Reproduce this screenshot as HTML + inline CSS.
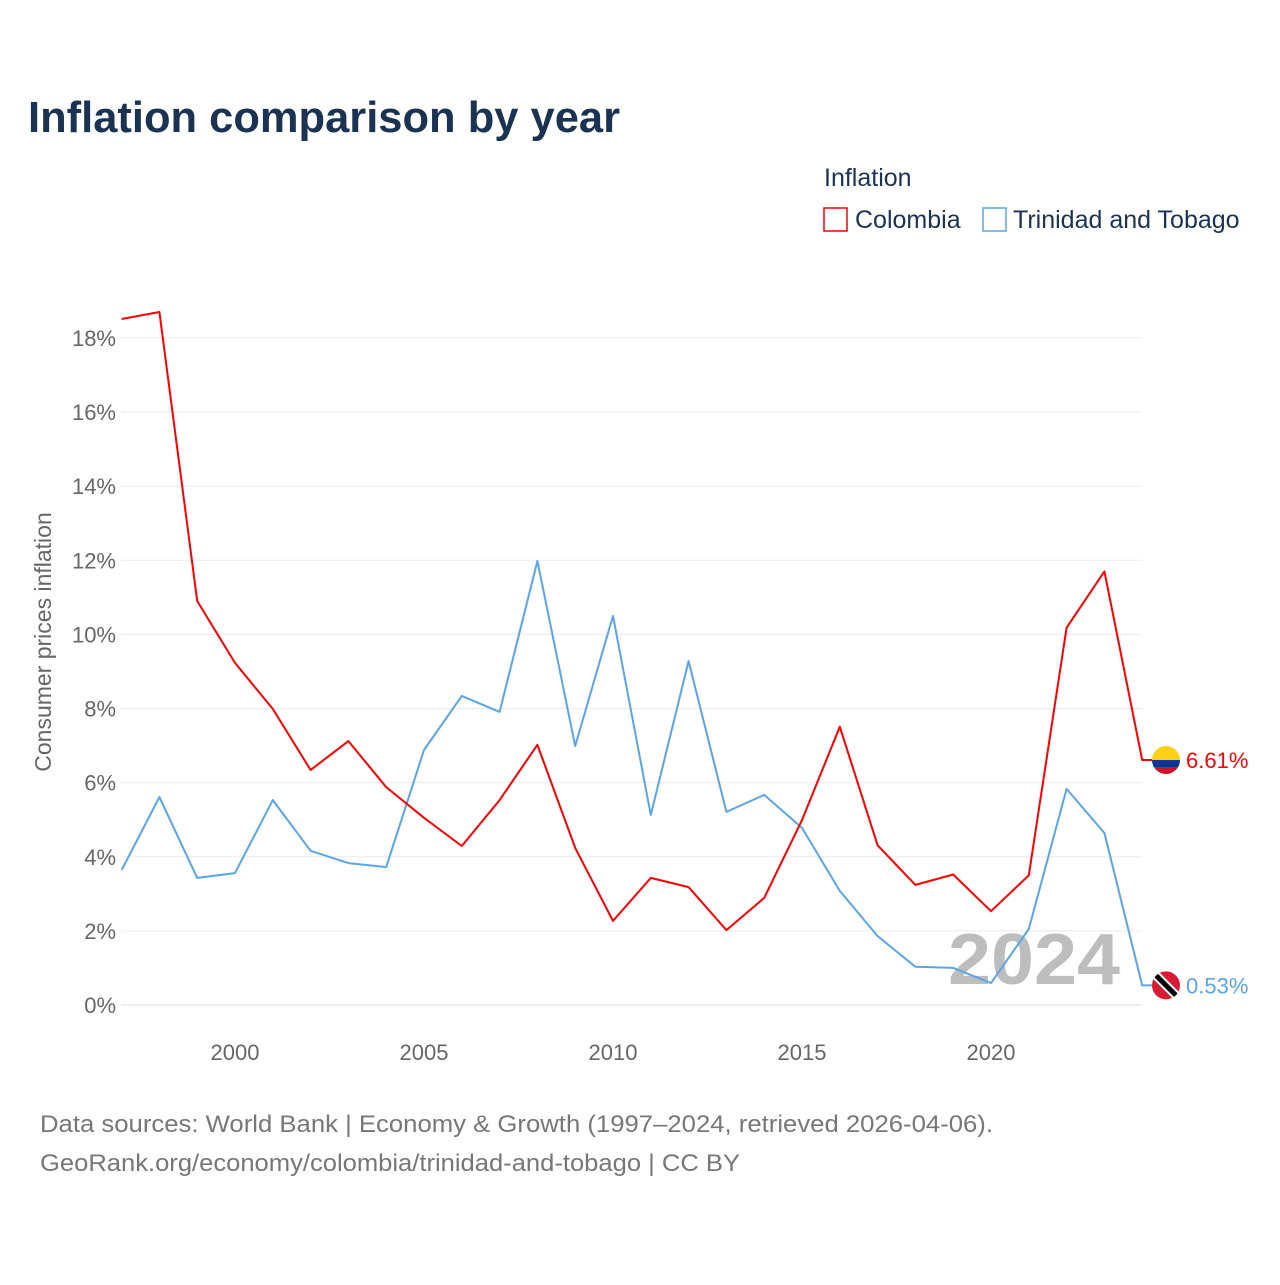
<!DOCTYPE html>
<html><head><meta charset="utf-8">
<style>
body{margin:0;background:#fff;font-family:"Liberation Sans",sans-serif;}
svg text{font-family:"Liberation Sans",sans-serif;}
</style></head>
<body>
<svg id="chart" width="1280" height="1280" xmlns="http://www.w3.org/2000/svg">
<text x="28" y="132" font-size="44" font-weight="bold" fill="#1b3352" textLength="592" lengthAdjust="spacingAndGlyphs">Inflation comparison by year</text>
<text x="824" y="186" font-size="25" fill="#1b3352">Inflation</text>
<g>
<rect x="824" y="208" width="23" height="23" fill="none" stroke="#ff0000" stroke-width="1.5"/>
<text x="855" y="228" font-size="25" fill="#1b3352">Colombia</text></g>
<g>
<rect x="983" y="208" width="23" height="23" fill="none" stroke="#5aa5e8" stroke-width="1.5"/>
<text x="1013" y="228" font-size="25" fill="#1b3352">Trinidad and Tobago</text></g>
<g id="grid"></g><g id="yticks"></g><g id="xticks"></g>
<text transform="translate(51,642) rotate(-90)" text-anchor="middle" font-size="23" fill="#666">Consumer prices inflation</text>
<text x="948" y="984" font-size="72" font-weight="bold" fill="#bdbdbd" textLength="172" lengthAdjust="spacingAndGlyphs">2024</text>
<g id="series"></g>
<text x="40" y="1132" font-size="24" fill="#777" textLength="953" lengthAdjust="spacingAndGlyphs">Data sources: World Bank | Economy &amp; Growth (1997–2024, retrieved 2026-04-06).</text>
<text x="40" y="1171" font-size="24" fill="#777" textLength="700" lengthAdjust="spacingAndGlyphs">GeoRank.org/economy/colombia/trinidad-and-tobago | CC BY</text>
</svg>
<script>
const years=[1997,1998,1999,2000,2001,2002,2003,2004,2005,2006,2007,2008,2009,2010,2011,2012,2013,2014,2015,2016,2017,2018,2019,2020,2021,2022,2023,2024];
const colombia=[18.51,18.70,10.90,9.23,7.99,6.34,7.12,5.88,5.05,4.29,5.53,7.02,4.24,2.27,3.43,3.18,2.02,2.89,4.99,7.51,4.31,3.24,3.52,2.53,3.50,10.18,11.70,6.61];
const trinidad=[3.64,5.61,3.43,3.56,5.53,4.16,3.83,3.72,6.88,8.34,7.91,11.98,6.99,10.50,5.13,9.28,5.21,5.67,4.78,3.08,1.86,1.03,1.00,0.59,2.05,5.83,4.64,0.53];
const yTicks=[0,2,4,6,8,10,12,14,16,18];
const xTicks=[2000,2005,2010,2015,2020];
const NS="http://www.w3.org/2000/svg";
const X=v=>121.6+(v-1997)*37.8;
const Y=v=>1005-v*37.06;
function mk(tag,attrs,parent,txt){const e=document.createElementNS(NS,tag);for(const k in attrs)e.setAttribute(k,attrs[k]);if(txt!==undefined)e.textContent=txt;parent.appendChild(e);return e;}
const grid=document.getElementById('grid'),yt=document.getElementById('yticks'),xt=document.getElementById('xticks'),ser=document.getElementById('series');
yTicks.forEach(t=>{
 const l=mk('line',{x1:121,x2:1142,y1:Y(t),y2:Y(t),stroke:t===0?'#ddd':'#ebebeb','stroke-width':1},grid);
 
 
 const tx=mk('text',{x:116,y:Y(t)+8,'text-anchor':'end','font-size':22,fill:'#666'},yt,t+'%');
 
 
});
xTicks.forEach(t=>{
 const tx=mk('text',{x:X(t),y:1060,'text-anchor':'middle','font-size':22,fill:'#666'},xt,String(t));
 
 
});
function line(vals,color,name){
 let d=vals.map((v,i)=>(i?'L':'M')+X(years[i]).toFixed(1)+','+Y(v).toFixed(1)).join('');
 const last=vals[vals.length-1];
 d+='L'+(X(2024)+10)+','+Y(last).toFixed(1);
 const p=mk('path',{d:d,fill:'none',stroke:color,'stroke-width':2,'stroke-linejoin':'round'},ser);
 
 
}
line(trinidad,'#5aa5e8','trinidad-line');
line(colombia,'#ff0000','colombia-line');
const cy=Y(colombia[colombia.length-1]), ty=Y(trinidad[trinidad.length-1]);
const cf=mk('g',{},ser);


const ccp=mk('clipPath',{id:'cc'},cf);mk('circle',{cx:1166,cy:cy,r:14},ccp);
mk('rect',{x:1152,y:cy-14,width:28,height:14,fill:'#fcd116','clip-path':'url(#cc)'},cf);
mk('rect',{x:1152,y:cy,width:28,height:7,fill:'#003893','clip-path':'url(#cc)'},cf);
mk('rect',{x:1152,y:cy+7,width:28,height:7,fill:'#ce1126','clip-path':'url(#cc)'},cf);
const cl=mk('text',{x:1186,y:cy+8,'font-size':22,fill:'#ff0000'},ser,colombia[colombia.length-1].toFixed(2)+'%');


const tf=mk('g',{},ser);


const tcp=mk('clipPath',{id:'tc'},tf);mk('circle',{cx:1166,cy:ty,r:14},tcp);
mk('circle',{cx:1166,cy:ty,r:14,fill:'#da1a35'},tf);
mk('line',{x1:1154,y1:ty-12,x2:1178,y2:ty+12,stroke:'#fff','stroke-width':9,'clip-path':'url(#tc)'},tf);
mk('line',{x1:1154,y1:ty-12,x2:1178,y2:ty+12,stroke:'#000','stroke-width':5,'clip-path':'url(#tc)'},tf);
const tl=mk('text',{x:1186,y:ty+8,'font-size':22,fill:'#5aa5e8'},ser,trinidad[trinidad.length-1].toFixed(2)+'%');


</script>
</body></html>
